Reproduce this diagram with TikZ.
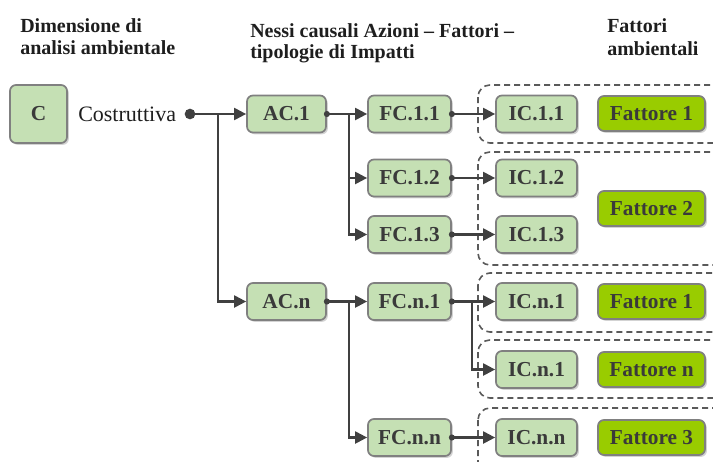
\documentclass[tikz,border=0pt]{standalone}
\usepackage{fontspec}
\setmainfont{Liberation Serif}
\usetikzlibrary{arrows.meta,shadows}
\definecolor{boxfill}{HTML}{C5E0B4}
\definecolor{boxedge}{HTML}{808080}
\definecolor{factfill}{HTML}{99CC00}
\definecolor{ink}{HTML}{404040}
\definecolor{txt}{HTML}{3A3A3A}
\definecolor{headtxt}{HTML}{1E1E1E}
\definecolor{dashc}{HTML}{5A5A5A}
\begin{document}
\begin{tikzpicture}[x=0.75pt,y=-0.75pt,
  box/.style={draw=boxedge, line width=1.3pt, rounded corners=4.5pt, fill=boxfill,
    text=txt, font=\fontsize{16}{18}\selectfont\bfseries, inner sep=0pt,
    minimum height=27.75pt,
    drop shadow={shadow xshift=1.4pt, shadow yshift=-1.4pt, opacity=0.35}},
  acbox/.style={box, minimum width=59.25pt},
  fcbox/.style={box, minimum width=62.25pt},
  icbox/.style={box, minimum width=60.75pt},
  factbox/.style={box, fill=factfill, minimum width=80.25pt, minimum height=26.25pt},
  head/.style={anchor=base west, inner sep=0pt, text=headtxt,
    font=\fontsize{15}{17}\selectfont\bfseries},
  label/.style={inner sep=0pt, text=headtxt, font=\fontsize{16.5}{19}\selectfont},
  group/.style={draw=dashc, line width=1.2pt, dash pattern=on 4.5pt off 3pt,
    rounded corners=9pt},
  wire/.style={draw=ink, line width=1.6pt, -{Triangle[length=9pt,width=9pt]}},
]
\useasboundingbox (0,0) rectangle (713,461);
\clip (0,0) rectangle (713,461);

% column headings
\node[head] (h1a) at (20,32) {Dimensione di};
\node[head] (h1b) at (20,54) {analisi ambientale};
\node[head] (h2a) at (250,37) {Nessi causali Azioni – Fattori –};
\node[head] (h2b) at (250,58) {tipologie di Impatti};
\node[head] (h3a) at (607,32) {Fattori};
\node[head] (h3b) at (607,55) {ambientali};

% dashed groups of impacts and environmental factors
\draw[group] (478,85) rectangle (760,143);
\draw[group] (478,152) rectangle (760,265);
\draw[group] (478,273) rectangle (760,332);
\draw[group] (478,340) rectangle (760,398);
\draw[group] (478,408) rectangle (760,490);

% dimension
\node[box, minimum width=42.75pt, minimum height=43.5pt] (C) at (38.5,114) {C};
\node[label, anchor=west] (cost) at (78,114.5) {Costruttiva};
\coordinate (cdot) at (190,114);

% actions
\node[acbox] (AC1) at (286.5,114) {AC.1};
\node[acbox] (ACn) at (286.5,301.5) {AC.n};

% factors
\node[fcbox] (FC11) at (409.5,114) {FC.1.1};
\node[fcbox] (FC12) at (409.5,178) {FC.1.2};
\node[fcbox] (FC13) at (409.5,234.5) {FC.1.3};
\node[fcbox] (FCn1) at (409.5,301.5) {FC.n.1};
\node[fcbox] (FCnn) at (409.5,437.5) {FC.n.n};

% impacts
\node[icbox] (IC11) at (536.5,114) {IC.1.1};
\node[icbox] (IC12) at (536.5,178) {IC.1.2};
\node[icbox] (IC13) at (536.5,234.5) {IC.1.3};
\node[icbox] (ICn1) at (536.5,301.5) {IC.n.1};
\node[icbox] (ICn1b) at (536.5,369.5) {IC.n.1};
\node[icbox] (ICnn) at (536.5,437.5) {IC.n.n};

% environmental factors
\node[factbox] (F1) at (651.5,113.5) {Fattore 1};
\node[factbox] (F2) at (651.5,208.5) {Fattore 2};
\node[factbox] (F1b) at (651.5,301.5) {Fattore 1};
\node[factbox] (Fn) at (651.5,369.5) {Fattore n};
\node[factbox] (F3) at (651.5,437.5) {Fattore 3};

% connectors
\coordinate (s1) at (218,114);
\coordinate (s2) at (349,114);
\coordinate (s3) at (349,301.5);
\coordinate (s4) at (472,301.5);

\draw[wire] (cdot) -- (AC1.west);
\draw[wire] (s1) |- (ACn.west);

\draw[wire] (AC1.east) -- (FC11.west);
\draw[wire] (s2) |- (FC12.west);
\draw[wire] (s2) |- (FC13.west);
\draw[wire] (ACn.east) -- (FCn1.west);
\draw[wire] (s3) |- (FCnn.west);

\draw[wire] (FC11.east) -- (IC11.west);
\draw[wire] (FC12.east) -- (IC12.west);
\draw[wire] (FC13.east) -- (IC13.west);
\draw[wire] (FCn1.east) -- (ICn1.west);
\draw[wire] (s4) |- (ICn1b.west);
\draw[wire] (FCnn.east) -- (ICnn.west);

% junction dots
\fill[ink] (cdot) circle (4pt);
\foreach \n in {AC1,ACn,FC11,FC12,FC13,FCn1,FCnn}
  \fill[ink] (\n.east) circle (2.3pt);
\end{tikzpicture}
\end{document}
